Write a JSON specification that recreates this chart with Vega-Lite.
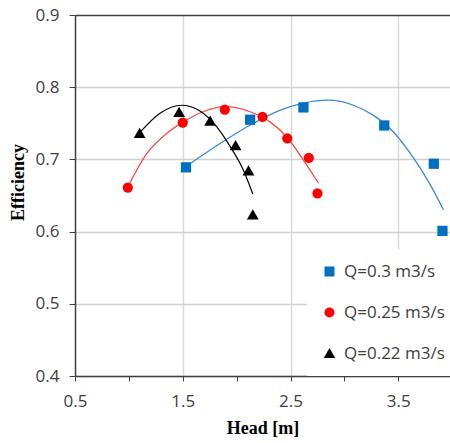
{
  "$schema": "https://vega.github.io/schema/vega-lite/v6.json",
  "width": 375,
  "height": 361,
  "autosize": {"type": "none"},
  "padding": {"left": 75, "top": 15, "right": 0, "bottom": 67},
  "background": "white",
  "config": {"view": {"stroke": null}, "font": "Open Sans"},
  "datasets": {
    "points": [
      {"series": "Q=0.3 m3/s", "head": 1.53, "eff": 0.689},
      {"series": "Q=0.3 m3/s", "head": 2.125, "eff": 0.755},
      {"series": "Q=0.3 m3/s", "head": 2.62, "eff": 0.772},
      {"series": "Q=0.3 m3/s", "head": 3.37, "eff": 0.747},
      {"series": "Q=0.3 m3/s", "head": 3.83, "eff": 0.694},
      {"series": "Q=0.3 m3/s", "head": 3.91, "eff": 0.601},
      {"series": "Q=0.25 m3/s", "head": 0.99, "eff": 0.661},
      {"series": "Q=0.25 m3/s", "head": 1.5, "eff": 0.751},
      {"series": "Q=0.25 m3/s", "head": 1.89, "eff": 0.769},
      {"series": "Q=0.25 m3/s", "head": 2.24, "eff": 0.759},
      {"series": "Q=0.25 m3/s", "head": 2.47, "eff": 0.729},
      {"series": "Q=0.25 m3/s", "head": 2.67, "eff": 0.702},
      {"series": "Q=0.25 m3/s", "head": 2.75, "eff": 0.653},
      {"series": "Q=0.22 m3/s", "head": 1.1, "eff": 0.736},
      {"series": "Q=0.22 m3/s", "head": 1.466, "eff": 0.765},
      {"series": "Q=0.22 m3/s", "head": 1.754, "eff": 0.753},
      {"series": "Q=0.22 m3/s", "head": 1.99, "eff": 0.719},
      {"series": "Q=0.22 m3/s", "head": 2.11, "eff": 0.684},
      {"series": "Q=0.22 m3/s", "head": 2.15, "eff": 0.623}
    ],
    "curves": [
      {"series": "Q=0.3 m3/s", "head": 1.53, "eff": 0.690},
      {"series": "Q=0.3 m3/s", "head": 1.846, "eff": 0.722},
      {"series": "Q=0.3 m3/s", "head": 2.156, "eff": 0.75},
      {"series": "Q=0.3 m3/s", "head": 2.4, "eff": 0.768},
      {"series": "Q=0.3 m3/s", "head": 2.62, "eff": 0.778},
      {"series": "Q=0.3 m3/s", "head": 2.85, "eff": 0.782},
      {"series": "Q=0.3 m3/s", "head": 3.084, "eff": 0.775},
      {"series": "Q=0.3 m3/s", "head": 3.27, "eff": 0.761},
      {"series": "Q=0.3 m3/s", "head": 3.455, "eff": 0.738},
      {"series": "Q=0.3 m3/s", "head": 3.641, "eff": 0.702},
      {"series": "Q=0.3 m3/s", "head": 3.796, "eff": 0.665},
      {"series": "Q=0.3 m3/s", "head": 3.92, "eff": 0.63},
      {"series": "Q=0.25 m3/s", "head": 0.99, "eff": 0.662},
      {"series": "Q=0.25 m3/s", "head": 1.166, "eff": 0.708},
      {"series": "Q=0.25 m3/s", "head": 1.351, "eff": 0.736},
      {"series": "Q=0.25 m3/s", "head": 1.506, "eff": 0.752},
      {"series": "Q=0.25 m3/s", "head": 1.69, "eff": 0.766},
      {"series": "Q=0.25 m3/s", "head": 1.893, "eff": 0.773},
      {"series": "Q=0.25 m3/s", "head": 2.125, "eff": 0.766},
      {"series": "Q=0.25 m3/s", "head": 2.31, "eff": 0.752},
      {"series": "Q=0.25 m3/s", "head": 2.466, "eff": 0.731},
      {"series": "Q=0.25 m3/s", "head": 2.62, "eff": 0.699},
      {"series": "Q=0.25 m3/s", "head": 2.76, "eff": 0.667},
      {"series": "Q=0.22 m3/s", "head": 1.1, "eff": 0.737},
      {"series": "Q=0.22 m3/s", "head": 1.289, "eff": 0.764},
      {"series": "Q=0.22 m3/s", "head": 1.49, "eff": 0.775},
      {"series": "Q=0.22 m3/s", "head": 1.66, "eff": 0.767},
      {"series": "Q=0.22 m3/s", "head": 1.816, "eff": 0.745},
      {"series": "Q=0.22 m3/s", "head": 1.939, "eff": 0.718},
      {"series": "Q=0.22 m3/s", "head": 2.063, "eff": 0.685},
      {"series": "Q=0.22 m3/s", "head": 2.15, "eff": 0.652}
    ]
  },
  "encoding": {
    "x": {
      "field": "head",
      "type": "quantitative",
      "scale": {"domain": [0.5, 3.98], "nice": false, "zero": false},
      "axis": {
        "values": [0.5, 1, 1.5, 2, 2.5, 3, 3.5],
        "labelExpr": "datum.value % 1 == 0.5 ? format(datum.value, '.1f') : ''",
        "labelFlush": false,
        "labelOverlap": false,
        "grid": true,
        "gridColor": {"condition": {"test": "datum.value % 1 == 0.5 && datum.value > 0.6", "value": "#d9d9d9"}, "value": "transparent"},
        "gridWidth": 1.5,
        "domainColor": "#404040",
        "domainWidth": 1.5,
        "tickColor": "#404040",
        "tickSize": 5,
        "labelFontSize": 17,
        "labelColor": "#404040",
        "labelPadding": 12,
        "title": "Head [m]",
        "titleFont": "Liberation Serif",
        "titleFontSize": 18,
        "titleFontWeight": "bold",
        "titleColor": "#000000",
        "titlePadding": 10
      }
    },
    "y": {
      "field": "eff",
      "type": "quantitative",
      "scale": {"domain": [0.4, 0.9], "nice": false, "zero": false},
      "axis": {
        "values": [0.4, 0.5, 0.6, 0.7, 0.8, 0.9],
        "format": ".1f",
        "grid": true,
        "gridColor": {"condition": {"test": "datum.value >= 0.89", "value": "#404040"}, "value": "#d0d0d0"},
        "gridWidth": 1.5,
        "domainColor": "#404040",
        "domainWidth": 1.5,
        "tickColor": "#404040",
        "tickSize": 6,
        "labelFontSize": 17,
        "labelColor": "#404040",
        "labelPadding": 10,
        "title": "Efficiency",
        "titleFont": "Liberation Serif",
        "titleFontSize": 18,
        "titleFontWeight": "bold",
        "titleColor": "#000000",
        "titlePadding": 8,
        "titleY": 167
      }
    }
  },
  "layer": [
    {
      "data": {"name": "curves"},
      "transform": [{"filter": "datum.series == 'Q=0.3 m3/s'"}],
      "mark": {"type": "line", "interpolate": "monotone", "strokeWidth": 1.3, "color": "#3a8bd3"},
      "encoding": {}
    },
    {
      "data": {"name": "curves"},
      "transform": [{"filter": "datum.series == 'Q=0.25 m3/s'"}],
      "mark": {"type": "line", "interpolate": "monotone", "strokeWidth": 1.3, "color": "#ff4a4a"},
      "encoding": {}
    },
    {
      "data": {"name": "curves"},
      "transform": [{"filter": "datum.series == 'Q=0.22 m3/s'"}],
      "mark": {"type": "line", "interpolate": "monotone", "strokeWidth": 1.2, "color": "#000000"},
      "encoding": {}
    },
    {
      "data": {"name": "points"},
      "mark": {"type": "point", "filled": true, "opacity": 1, "size": 105},
      "encoding": {
        "color": {
          "field": "series",
          "type": "nominal",
          "scale": {"domain": ["Q=0.3 m3/s", "Q=0.25 m3/s", "Q=0.22 m3/s"], "range": ["#0070c0", "#ff0000", "#000000"]},
          "legend": {"orient": "none", "legendX": 232, "legendY": 234, "title": null, "fillColor": "white", "padding": 14, "labelFontSize": 17, "labelFont": "Open Sans", "labelColor": "#404040", "symbolSize": 100, "rowPadding": 23, "labelOffset": 6, "symbolStrokeWidth": 0}
        },
        "shape": {
          "field": "series",
          "type": "nominal",
          "scale": {"domain": ["Q=0.3 m3/s", "Q=0.25 m3/s", "Q=0.22 m3/s"], "range": ["square", "circle", "M0,-1.1L1.15,0.9L-1.15,0.9Z"]},
          "legend": {"orient": "none", "legendX": 232, "legendY": 234, "title": null, "fillColor": "white", "padding": 14, "labelFontSize": 17, "labelFont": "Open Sans", "labelColor": "#404040", "symbolSize": 100, "rowPadding": 23, "labelOffset": 6, "symbolStrokeWidth": 0}
        }
      }
    }
  ]
}
